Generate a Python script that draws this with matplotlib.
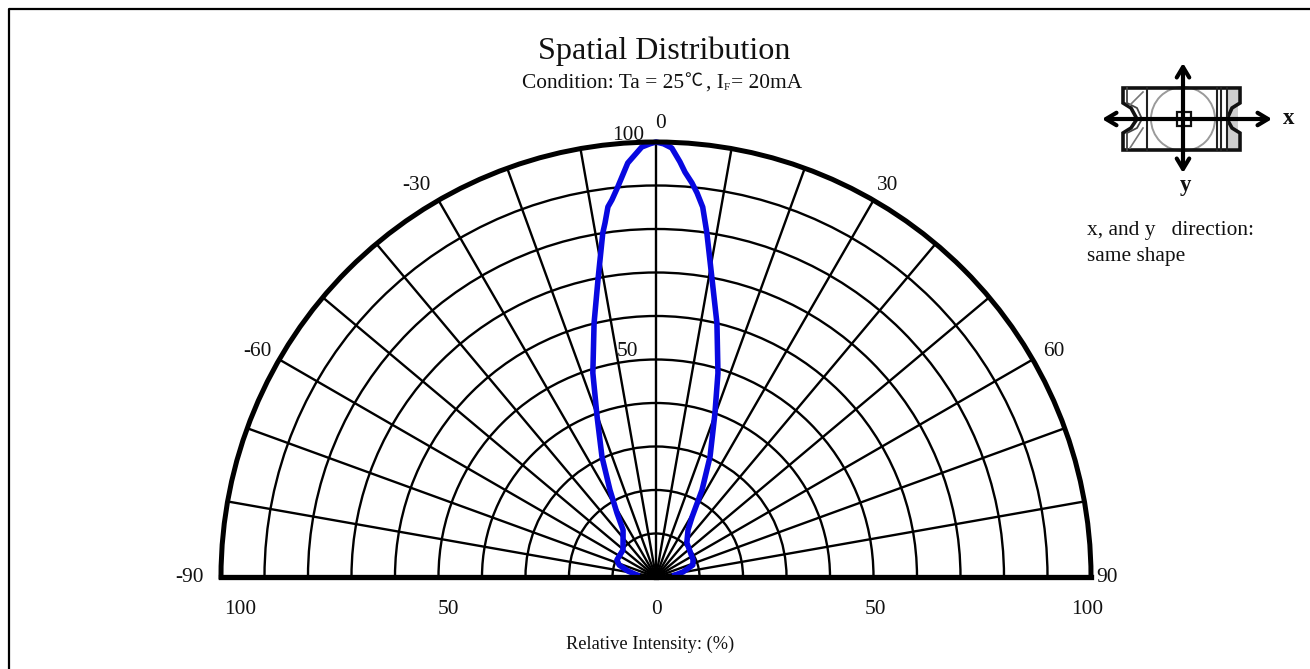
#!/usr/bin/env python
#
#   LED spatial distribution, half polar plot
#

import numpy as np
from matplotlib import pyplot as plt
from matplotlib.patches import Circle, Polygon, Rectangle

SERIF = ['Liberation Serif', 'Noto Sans CJK SC', 'DejaVu Serif']

# Curve: angle (deg), relative intensity (%)
ANGLES = [-84, -78, -72, -66.4, -50.7, -44, -35, -31.4, -27.9, -24.2, -20.2, -17.2, -13.7, -11.05, -8.8, -8.2,
          -7.4, -6.66, -5.6, -3.9, -1.9, -0.8,
          0, 1, 2.1, 3.3, 4.1, 5.2, 6.1, 7.2, 8.4, 10.7, 13.5, 16.9, 19.8, 24.2, 27.9, 31, 34.2, 42, 65, 72, 79.5, 84]
INTENSITY = [4.4, 6.6, 8.9, 9.8, 9.8, 10.9, 13.2, 17.2, 22.6, 30.3, 39.2, 49.1, 60.1, 69.6, 80, 82.2,
             85.8, 87.3, 90.1, 95.4, 98.9, 99.6,
             100, 99.6, 98.7, 95.6, 93.3, 91, 88.8, 85.7, 80, 69.5, 60, 49, 40, 30.3, 22.6, 16.1, 13.1, 10.6, 9.4,
             8.9, 6.3, 4.4]

THETA_GRID = list(range(-90, 91, 10))
R_GRID = list(range(10, 101, 10))

# label text, x pixel, y pixel
ANGLE_LABELS = [('0', 661, 121), ('30', 888, 184), ('-30', 416, 184), ('60', 1054, 350), ('-60', 257, 350),
                ('-90', 189, 576), ('90', 1107, 576), ('100', 628, 133), ('50', 627, 349)]
AXIS_LABELS = [('100', 240, 608), ('50', 448, 608), ('0', 657, 608), ('50', 875, 608), ('100', 1087, 608)]

W, H = 1310, 669
CX, CY, RADIUS = 656, 577, 435

fig = plt.figure(figsize=(W / 100, H / 100), dpi=100)

# the half disc sits centred in a square box, so the box has to be 2R high
ax = fig.add_axes([(CX - RADIUS) / W, (H - CY - RADIUS / 2) / H, 2 * RADIUS / W, 2 * RADIUS / H], projection='polar')
ax.set_theta_zero_location('N')
ax.set_theta_direction(-1)
ax.set_thetamin(-90)
ax.set_thetamax(90)
ax.set_rlim(0, 100)
ax.set_thetagrids(THETA_GRID, labels=[''] * len(THETA_GRID))
ax.set_rgrids(R_GRID, labels=[''] * len(R_GRID))
ax.grid(True, color='black', lw=1.7)
ax.tick_params(length=0)
ax.spines['polar'].set_linewidth(3.6)
ax.spines['start'].set_linewidth(3.8)
ax.spines['end'].set_linewidth(3.8)
ax.spines['inner'].set_visible(False)

ax.plot(np.radians(ANGLES), INTENSITY, color='#0808e0', lw=4, solid_joinstyle='round', clip_on=False)

# Pixel overlay for the frame, labels and the package sketch
ov = fig.add_axes([0, 0, 1, 1], facecolor='none')
ov.set_xlim(0, W)
ov.set_ylim(H, 0)
ov.axis('off')

ov.plot([9, 9, W], [H, 9, 9], color='black', lw=1.6)


def label(x, y, s, size=15.4, ha='center', va='center', **kw):
    ov.text(x, y + 2, s, fontsize=size, ha=ha, va=va, family=SERIF, color='#111111', **kw)


for _s, _x, _y in ANGLE_LABELS + AXIS_LABELS:
    label(_x, _y, _s)

label(664, 49, 'Spatial Distribution', size=23.1)
label(522, 81, 'Condition: Ta = 25', ha='left')
label(684, 80, '\u2103', size=13, ha='left')
label(706, 81, ', I', ha='left')
label(724, 86, 'F', size=8, ha='left')
label(731, 81, '= 20mA', ha='left')
label(650, 642, 'Relative Intensity: (%)', size=13.2)
label(1087, 229, 'x, and y   direction:', ha='left')
label(1087, 254, 'same shape', ha='left')
label(1289, 117, 'x', size=16.5, weight='bold')
label(1186, 184, 'y', size=16.5, weight='bold')

# Package sketch
ov.add_patch(Rectangle((1228, 90), 10, 58, fc='#cfcfcf', ec='none'))
ov.add_patch(Circle((1183, 119), 32, fc='none', ec='#9a9a9a', lw=1.4))
ov.add_patch(Polygon([(1123, 88), (1240, 88), (1240, 103), (1232, 108), (1227, 119), (1232, 128), (1240, 133),
                      (1240, 150), (1123, 150), (1123, 133), (1131, 128), (1137, 119), (1131, 108), (1123, 103)],
                     closed=True, fc='none', ec='#111111', lw=2.6))
for _x in [1147, 1217, 1221, 1227]:
    ov.plot([_x, _x], [88, 150], color='#222222', lw=1.5)
ov.plot([1127, 1127, 1137, 1142], [88, 103, 108, 119], color='#444444', lw=1.3)
ov.plot([1127, 1127, 1137, 1142], [150, 133, 128, 119], color='#444444', lw=1.3)
ov.plot([1130, 1143], [148, 128], color='#777777', lw=1.2)
ov.plot([1130, 1143], [105, 92], color='#777777', lw=1.2)
ov.add_patch(Rectangle((1177, 112), 14, 14, fc='none', ec='#111111', lw=1.6))
ov.annotate('', xy=(1102, 119), xytext=(1272, 119), arrowprops=dict(arrowstyle='<->,head_width=0.45,head_length=0.75',
                                                                    color='black', lw=3, shrinkA=0, shrinkB=0))
ov.annotate('', xy=(1183, 63), xytext=(1183, 173), arrowprops=dict(arrowstyle='<->,head_width=0.45,head_length=0.75',
                                                                   color='black', lw=3, shrinkA=0, shrinkB=0))

fig.savefig('out.png', dpi=100)
